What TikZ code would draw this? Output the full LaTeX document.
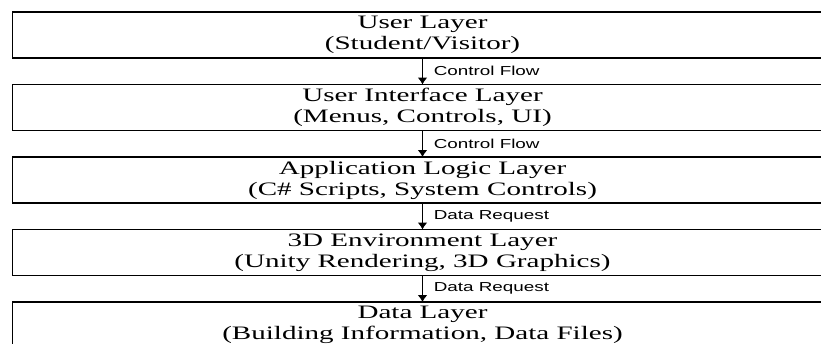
\documentclass[tikz,border=0pt]{standalone}
\usepackage{fontspec}
\setmainfont{Liberation Serif}[FakeStretch=1.53]
\setsansfont{Liberation Sans}[FakeStretch=1.45]
\usepackage{tikz}
\usetikzlibrary{positioning,arrows.meta}

\begin{document}
\begin{tikzpicture}[
	x=1pt, y=1pt,
	layerbox/.style={rectangle, draw=black, line width=1.5pt, minimum width=820pt, minimum height=46pt, inner sep=0pt, outer sep=0pt, align=center, font=\fontsize{19}{21}\selectfont, execute at begin node=\rule{0pt}{20pt}},
	flowlabel/.style={right, inner sep=0pt, xshift=10.5pt, font=\sffamily\fontsize{13}{15}\selectfont},
	flowarrow/.style={-{Latex[length=7pt,width=10pt]}, line width=1.6pt},
	node distance=26.5pt,
	]
	\useasboundingbox (0,0) rectangle (821,-343);
	%Nodes
	\node[layerbox]      (l1)   at (422.5,-35)   {User Layer\\(Student/Visitor)};
	\node[layerbox]      (l2)   [below=of l1]    {User Interface Layer\\(Menus, Controls, UI)};
	\node[layerbox]      (l3)   [below=of l2]    {Application Logic Layer\\(C\# Scripts, System Controls)};
	\node[layerbox]      (l4)   [below=of l3]    {3D Environment Layer\\(Unity Rendering, 3D Graphics)};
	\node[layerbox]      (l5)   [below=of l4]    {Data Layer\\(Building Information, Data Files)};
	
	%Lines
	\draw[flowarrow] (l1) -- node[flowlabel] {Control Flow} (l2);
	\draw[flowarrow] (l2) -- node[flowlabel] {Control Flow} (l3);
	\draw[flowarrow] (l3) -- node[flowlabel] {Data Request} (l4);
	\draw[flowarrow] (l4) -- node[flowlabel] {Data Request} (l5);
\end{tikzpicture}
\end{document}
